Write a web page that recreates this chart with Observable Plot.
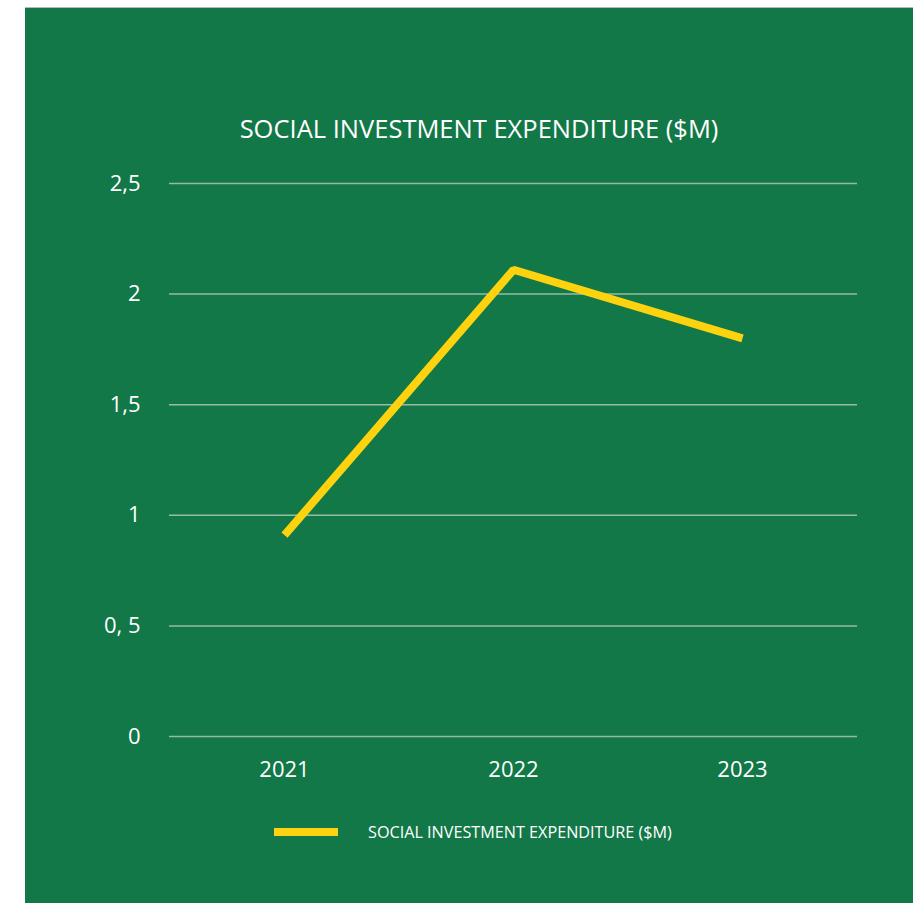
<!DOCTYPE html>
<html>
<head>
<meta charset="utf-8">
<script src="https://cdn.jsdelivr.net/npm/d3@7"></script>
<script src="https://cdn.jsdelivr.net/npm/@observablehq/plot@0.6"></script>
<style>
  html, body { margin: 0; padding: 0; background: #ffffff; }
  body { width: 913px; height: 903px; position: relative; overflow: hidden; font-family: "Open Sans", "Noto Sans", sans-serif; }
  #panel { position: absolute; left: 25px; top: 7px; width: 888px; height: 896px; background: #127847; border-top: 1px solid #b8b8b8; box-sizing: border-box; }
  #title { position: absolute; left: 0; top: 103px; width: 888px; padding-left: 20px; box-sizing: border-box; text-align: center; color: #ffffff; font-size: 25.5px; line-height: 35px; font-family: "Open Sans", sans-serif; white-space: nowrap; }
  #chart { position: absolute; left: 0; top: 145px; }
  #legend { position: absolute; left: 249px; top: 813px; height: 22px; display: flex; align-items: center; color: #ffffff; font-size: 16.2px; white-space: nowrap; }
  #legend .sw { width: 64px; height: 8px; background: #fdd20f; margin-right: 30px; flex: none; }
</style>
</head>
<body>
<div id="panel">
  <div id="title"></div>
  <div id="chart"></div>
  <div id="legend"><span class="sw"></span><span id="legtext"></span></div>
</div>
<script>
const titleText = "SOCIAL INVESTMENT EXPENDITURE ($M)";
const seriesName = "SOCIAL INVESTMENT EXPENDITURE ($M)";
const years = ["2021", "2022", "2023"];
const values = [0.91, 2.11, 1.80];
const yTicks = [0, 0.5, 1, 1.5, 2, 2.5];
const yTickLabels = ["0", "0, 5", "1", "1,5", "2", "2,5"];

document.getElementById("title").textContent = titleText;
document.getElementById("legtext").textContent = seriesName;

const data = years.map((y, i) => ({year: y, value: values[i]}));

const chart = Plot.plot({
  width: 888,
  height: 633,
  marginLeft: 144,
  marginRight: 56,
  marginTop: 30,
  marginBottom: 50,
  style: {background: "transparent", color: "#ffffff", fontSize: "22px", fontFamily: "'Open Sans', sans-serif"},
  x: {type: "point", domain: years, padding: 0.5, label: null},
  y: {domain: [0, 2.5], label: null},
  marks: [
    Plot.gridY(yTicks, {stroke: "#98b9a4", strokeOpacity: 1, strokeWidth: 1.5}),
    Plot.axisY({ticks: yTicks, tickSize: 0, tickPadding: 29, tickFormat: d => yTickLabels[yTicks.indexOf(d)], label: null, fill: "#ffffff", fontSize: 22}),
    Plot.axisX({tickSize: 0, tickPadding: 25, label: null, fill: "#ffffff", fontSize: 22}),
    Plot.line(data, {x: "year", y: "value", stroke: "#fdd20f", strokeWidth: 8, strokeLinejoin: "miter", strokeLinecap: "butt"})
  ]
});
document.getElementById("chart").appendChild(chart);
</script>
</body>
</html>
